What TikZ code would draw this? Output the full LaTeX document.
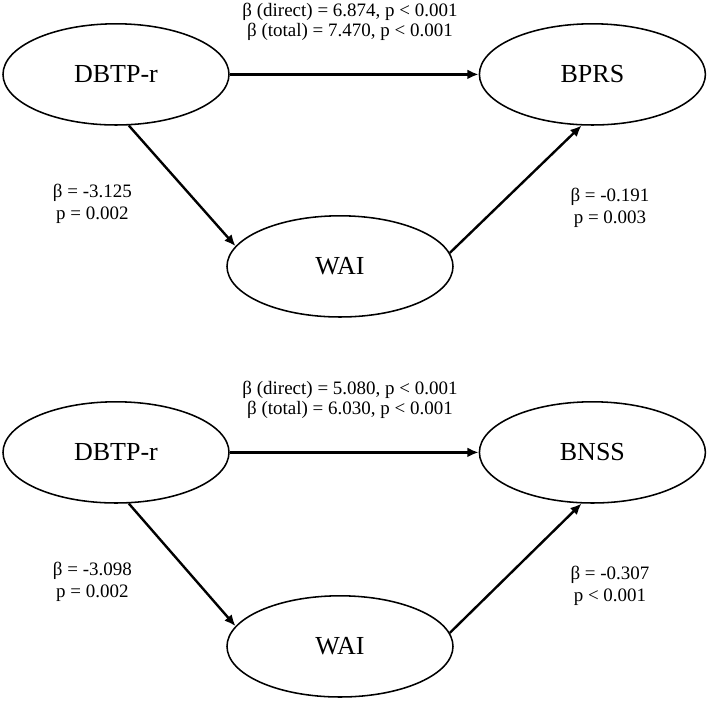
\documentclass[tikz,border=0pt]{standalone}
\usepackage{fontspec}
\setmainfont{Liberation Serif}
\usetikzlibrary{shapes.geometric,arrows.meta}

\begin{document}
\begin{tikzpicture}[latent/.style = {draw, ellipse, line width=1.1pt, minimum width=5.65cm, minimum height=2.53cm, inner sep=0pt, font=\fontsize{18.5}{20}\selectfont},
                    effect/.style = {line width=1.7pt, -{Latex[length=8pt, width=7pt]}},
                    coef/.style = {align=center, inner sep=0pt, font=\fontsize{13.5}{16}\selectfont}]
                \useasboundingbox (0,0) rectangle (17.725,17.55);

                % Nodes (top)
                \node[latent] (d1) at (2.9,15.69) {DBTP-r};
                \node[latent] (b1) at (14.81,15.69) {BPRS};
                \node[latent] (w1) at (8.5,10.89) {WAI};

                % Nodes (bottom)
                \node[latent] (d2) at (2.9,6.24) {DBTP-r};
                \node[latent] (b2) at (14.81,6.24) {BNSS};
                \node[latent] (w2) at (8.5,1.39) {WAI};

                % Edges (top)
                \draw[effect, line width=2.2pt] (d1.east) -- (b1.west);
                \draw[effect] (d1.-76) -- (w1.169.5);
                \draw[effect] (w1.7) -- (b1.258.5);

                % Edges (bottom)
                \draw[effect, line width=2.2pt] (d2.east) -- (b2.west);
                \draw[effect] (d2.-76) -- (w2.169.5);
                \draw[effect] (w2.7) -- (b2.258.5);

                % Coefficients (top)
                \node[coef, font=\fontsize{13.5}{14.3}\selectfont] (c1) at (8.75,17.0) {β (direct) = 6.874, p < 0.001\\β (total) = 7.470, p < 0.001};
                \node[coef] (a1) at (2.31,12.46) {β = -3.125\\p = 0.002};
                \node[coef] (e1) at (15.25,12.35) {β = -0.191\\p = 0.003};

                % Coefficients (bottom)
                \node[coef, font=\fontsize{13.5}{14.3}\selectfont] (c2) at (8.75,7.55) {β (direct) = 5.080, p < 0.001\\β (total) = 6.030, p < 0.001};
                \node[coef] (a2) at (2.31,3.01) {β = -3.098\\p = 0.002};
                \node[coef] (e2) at (15.25,2.90) {β = -0.307\\p < 0.001};
\end{tikzpicture}
\end{document}
